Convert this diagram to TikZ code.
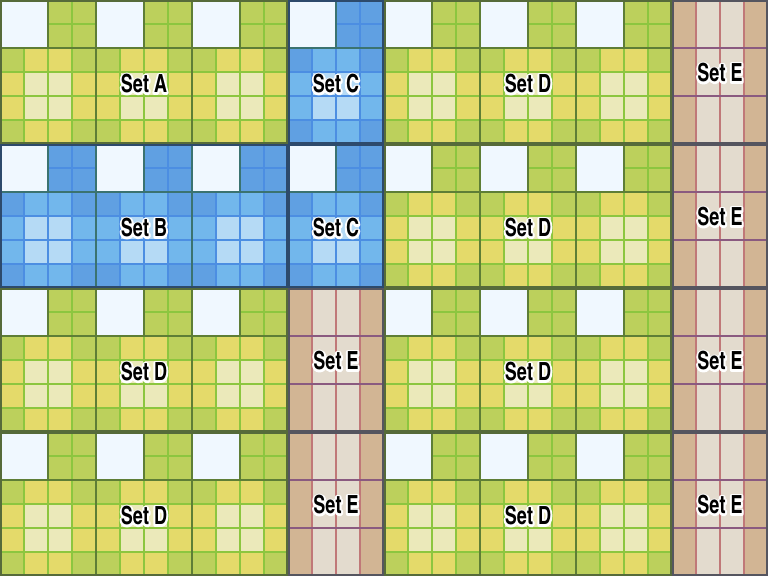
\documentclass[tikz,border=0pt]{standalone}
\usepackage{fontspec}
\newfontfamily\labelfont[FakeStretch=0.88]{TeX Gyre Heros Cn}
\definecolor{wht}{HTML}{F0F8FF}
\definecolor{gcorner}{HTML}{BCD05C}
\definecolor{gedge}{HTML}{E4DA6A}
\definecolor{gcenter}{HTML}{EBE9BA}
\definecolor{ggrid}{HTML}{8CC63F}
\definecolor{gdark}{HTML}{5E7E36}
\definecolor{gborder}{HTML}{566B3A}
\definecolor{bcorner}{HTML}{60A0E2}
\definecolor{bedge}{HTML}{72B7EC}
\definecolor{bcenter}{HTML}{B5DAF5}
\definecolor{bgrid}{HTML}{4C8EE2}
\definecolor{bdark}{HTML}{3B7370}
\definecolor{bborder}{HTML}{2D4A6C}
\definecolor{etan}{HTML}{D2B594}
\definecolor{elight}{HTML}{E3DBCE}
\definecolor{evline}{HTML}{C07878}
\definecolor{ehline}{HTML}{8A5A80}
\definecolor{eborder}{HTML}{55555F}
\newcommand\halotxt[1]{\rlap{\special{pdf:literal direct q 1 Tr 4 w 1 j 1 1 1 RG}#1\special{pdf:literal direct Q}}#1}
\newcommand\tileblock[3]{%
 \fill[wht] (#1,#2) rectangle ++(48,48);
 \fill[#3corner] (#1+48,#2) rectangle ++(48,48);
 \fill[#3edge] (#1,#2+48) rectangle ++(96,96);
 \fill[#3corner] (#1,#2+48) rectangle ++(24,24);
 \fill[#3corner] (#1+72,#2+48) rectangle ++(24,24);
 \fill[#3corner] (#1,#2+120) rectangle ++(24,24);
 \fill[#3corner] (#1+72,#2+120) rectangle ++(24,24);
 \fill[#3center] (#1+24,#2+72) rectangle ++(48,48);
 \draw[#3grid, line width=1.5] (#1+24,#2+48) -- ++(0,96) (#1+48,#2+48) -- ++(0,96)
   (#1+72,#2) -- ++(0,144) (#1,#2+72) -- ++(96,0) (#1,#2+96) -- ++(96,0)
   (#1,#2+120) -- ++(96,0) (#1+48,#2+24) -- ++(48,0);
 \draw[#3dark, line width=2.5] (#1+48,#2) -- ++(0,48) (#1,#2+48) -- ++(96,0)
   (#1,#2) -- ++(0,144) (#1+96,#2) -- ++(0,144);
}
\newcommand\eblock[2]{%
 \fill[etan] (#1,#2) rectangle ++(96,144);
 \fill[elight] (#1+24,#2) rectangle ++(48,144);
 \draw[evline, line width=1.8] (#1+24,#2) -- ++(0,144) (#1+48,#2) -- ++(0,144) (#1+72,#2) -- ++(0,144);
 \draw[ehline, line width=2] (#1,#2+48) -- ++(96,0) (#1,#2+96) -- ++(96,0);
}
\newcommand\setborder[5]{\draw[#5, line width=2.2] (#1+1.1,#2+1.1) rectangle (#1+#3-1.1,#2+#4-1.1);}
\tikzset{lbl/.style={inner sep=0pt, font=\labelfont\bfseries\fontsize{25}{25}\selectfont, text=black}}
\begin{document}
\begin{tikzpicture}[x=1pt,y=-1pt]
\useasboundingbox (0,0) rectangle (768,576);
% row 0
\foreach \x in {0,96,192} {\tileblock{\x}{0}{g}}
\tileblock{288}{0}{b}
\foreach \x in {384,480,576} {\tileblock{\x}{0}{g}}
\eblock{672}{0}
% row 1
\foreach \x in {0,96,192} {\tileblock{\x}{144}{b}}
\tileblock{288}{144}{b}
\foreach \x in {384,480,576} {\tileblock{\x}{144}{g}}
\eblock{672}{144}
% rows 2,3
\foreach \y in {288,432} {
 \foreach \x in {0,96,192,384,480,576} {\tileblock{\x}{\y}{g}}
 \eblock{288}{\y}
 \eblock{672}{\y}
}
% borders
\setborder{0}{0}{288}{144}{gborder}
\setborder{288}{0}{96}{144}{bborder}
\setborder{384}{0}{288}{144}{gborder}
\setborder{672}{0}{96}{144}{eborder}
\setborder{0}{144}{288}{144}{bborder}
\setborder{288}{144}{96}{144}{bborder}
\setborder{384}{144}{288}{144}{gborder}
\setborder{672}{144}{96}{144}{eborder}
\foreach \y in {288,432} {
 \setborder{0}{\y}{288}{144}{gborder}
 \setborder{288}{\y}{96}{144}{eborder}
 \setborder{384}{\y}{288}{144}{gborder}
 \setborder{672}{\y}{96}{144}{eborder}
}
% labels
\node[lbl] (setA) at (144,84) {\halotxt{Set A}};
\node[lbl] (setC1) at (336,84) {\halotxt{Set C}};
\node[lbl] (setD1) at (528,84) {\halotxt{Set D}};
\node[lbl] (setE1) at (720,73) {\halotxt{Set E}};
\node[lbl] (setB) at (144,228) {\halotxt{Set B}};
\node[lbl] (setC2) at (336,228) {\halotxt{Set C}};
\node[lbl] (setD2) at (528,228) {\halotxt{Set D}};
\node[lbl] (setE2) at (720,217) {\halotxt{Set E}};
\node[lbl] (setD3) at (144,372) {\halotxt{Set D}};
\node[lbl] (setE3) at (336,361) {\halotxt{Set E}};
\node[lbl] (setD4) at (528,372) {\halotxt{Set D}};
\node[lbl] (setE4) at (720,361) {\halotxt{Set E}};
\node[lbl] (setD5) at (144,516) {\halotxt{Set D}};
\node[lbl] (setE5) at (336,505) {\halotxt{Set E}};
\node[lbl] (setD6) at (528,516) {\halotxt{Set D}};
\node[lbl] (setE6) at (720,505) {\halotxt{Set E}};
\end{tikzpicture}
\end{document}
